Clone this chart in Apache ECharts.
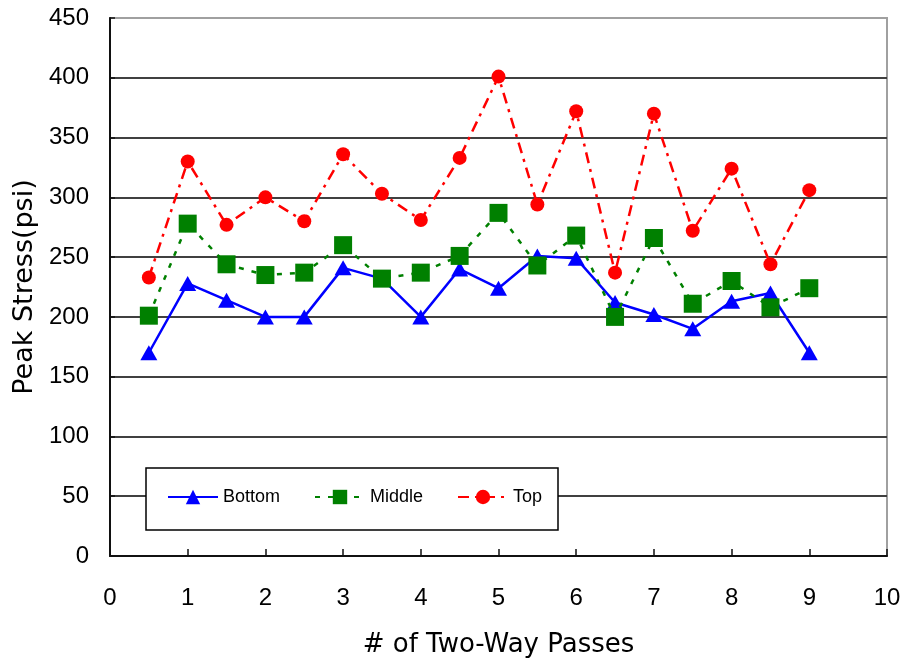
<!DOCTYPE html>
<html>
<head>
<meta charset="utf-8">
<script src="https://cdn.jsdelivr.net/npm/echarts@6/dist/echarts.min.js"></script>
<style>
  html, body { margin: 0; padding: 0; background: #fff; }
  #chart { width: 907px; height: 664px; }
</style>
</head>
<body>
<div id="chart"></div>
<script>
// Number of two-way passes at which stress was recorded
const passes = [0.5, 1, 1.5, 2, 2.5, 3, 3.5, 4, 4.5, 5, 5.5, 6, 6.5, 7, 7.5, 8, 8.5, 9];

// Peak stress (psi) per gauge depth
const bottom = [170, 228, 214, 200, 200, 241, 232, 200, 240, 224, 251, 249, 212, 202, 190, 213, 220, 170];
const middle = [201, 278, 244, 235, 237, 260, 232, 237, 251, 287, 243, 268, 200, 266, 211, 230, 208, 224];
const top_ = [233, 330, 277, 300, 280, 336, 303, 281, 333, 401, 294, 372, 237, 370, 272, 324, 244, 306];

const seriesNames = ['Bottom', 'Middle', 'Top'];
const xTicks = [0, 1, 2, 3, 4, 5, 6, 7, 8, 9, 10];
const yTicks = [0, 50, 100, 150, 200, 250, 300, 350, 400, 450];

const pairs = vals => passes.map((p, i) => [p, vals[i]]);

const chart = echarts.init(document.getElementById('chart'), null, { renderer: 'canvas' });

const tickFont = { fontFamily: 'Liberation Sans', fontSize: 24, color: '#000' };
const legendText = { fontFamily: 'Liberation Sans', fontSize: 18, color: '#000' };

// split line colours: dark rules inside the plot, light one at the top border
const splitColors = yTicks.map((v, i) => i === yTicks.length - 1 ? '#a0a0a0' : '#404040');

function legendAt(name, left) {
  return {
    data: [name],
    left: left,
    top: 488,
    padding: 0,
    itemWidth: 50,
    itemHeight: 18,
    itemGap: 0,
    textStyle: legendText,
    z: 20
  };
}

chart.setOption({
  backgroundColor: '#fff',
  animation: false,
  grid: {
    left: 110, top: 18, right: 20, bottom: 108,
    show: true, borderColor: '#a0a0a0', borderWidth: 2, backgroundColor: '#fff'
  },
  graphic: [{
    type: 'rect',
    shape: { x: 146, y: 468, width: 412, height: 62 },
    style: { fill: '#fff', stroke: '#000', lineWidth: 1.5 },
    z: 15
  }],
  legend: [legendAt('Bottom', 167), legendAt('Middle', 314), legendAt('Top', 457)],
  xAxis: {
    type: 'value',
    min: xTicks[0], max: xTicks[xTicks.length - 1], interval: 1,
    axisLine: { lineStyle: { color: '#111', width: 2 } },
    axisTick: { inside: true, length: 7, lineStyle: { color: '#111', width: 1.5 } },
    axisLabel: Object.assign({ margin: 30 }, tickFont),
    splitLine: { show: false },
    name: '# of Two-Way Passes',
    nameLocation: 'middle',
    nameGap: 76,
    nameTextStyle: { fontFamily: 'DejaVu Sans', fontSize: 26, color: '#000' }
  },
  yAxis: {
    type: 'value',
    min: yTicks[0], max: yTicks[yTicks.length - 1], interval: 50,
    axisLine: { show: true, lineStyle: { color: '#111', width: 2 } },
    axisTick: { show: true, inside: true, length: 5, lineStyle: { color: '#111', width: 1.5 } },
    axisLabel: Object.assign({ margin: 21 }, tickFont),
    splitLine: { show: true, lineStyle: { color: splitColors, width: 2 } },
    name: 'Peak Stress(psi)',
    nameLocation: 'middle',
    nameRotate: 90,
    nameGap: 72,
    nameTextStyle: { fontFamily: 'DejaVu Sans', fontSize: 27, color: '#000' }
  },
  series: [
    {
      name: seriesNames[0],
      type: 'line',
      data: pairs(bottom),
      symbol: 'triangle',
      symbolSize: [17, 15],
      itemStyle: { color: '#0000ff' },
      lineStyle: { color: '#0000ff', width: 2.5, type: 'solid' },
      z: 3
    },
    {
      name: seriesNames[1],
      type: 'line',
      data: pairs(middle),
      symbol: 'rect',
      symbolSize: 18,
      itemStyle: { color: '#008000' },
      lineStyle: { color: '#008000', width: 2.5, type: [5, 8] },
      z: 4
    },
    {
      name: seriesNames[2],
      type: 'line',
      data: pairs(top_),
      symbol: 'circle',
      symbolSize: 14,
      itemStyle: { color: '#ff0000' },
      lineStyle: { color: '#ff0000', width: 2.5, type: [11, 6, 3, 6] },
      z: 5
    }
  ]
});
</script>
</body>
</html>
